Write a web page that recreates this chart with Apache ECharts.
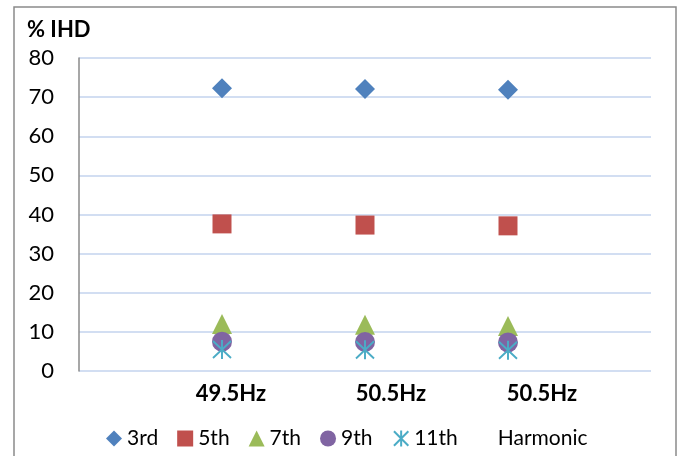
<!DOCTYPE html>
<html>
<head>
<meta charset="utf-8">
<script src="https://cdn.jsdelivr.net/npm/echarts@6/dist/echarts.min.js"></script>
<style>
    html, body { margin: 0; padding: 0; background: #fff; }
    #chart { width: 678px; height: 456px; }
</style>
</head>
<body>
<div id="chart"></div>
<script>
    // categories and values
    var categories = ['49.5Hz', '50.5Hz', '50.5Hz'];
    var seriesNames = ['3rd', '5th', '7th', '9th', '11th'];
    var third = [72.3, 72.1, 71.9];
    var fifth = [37.6, 37.3, 37.1];
    var seventh = [12.0, 11.8, 11.5];
    var ninth = [7.5, 7.4, 7.3];
    var eleventh = [5.5, 5.4, 5.3];
    var yTicks = [0, 10, 20, 30, 40, 50, 60, 70, 80];

    var fontFamily = 'Lato, "Liberation Sans", sans-serif';
    var asterisk = 'path://M10,0 L10,20 M1,1 L19,19 M19,1 L1,19';

    // padded axis: empty slot at both ends so points sit on band borders
    var xData = [''].concat(categories).concat(['']);
    function points(vals) {
        return vals.map(function (v, i) { return [i + 1, v]; });
    }
    // label shifts (Excel put the labels a bit right of the points)
    var labelShift = [0, 18, 52, 68, 0];
    var xLabelStyle = { fontSize: 22, fontWeight: 'bold', color: '#000', fontFamily: fontFamily };

    var option = {
        animation: false,
        textStyle: { fontFamily: fontFamily },
        graphic: [{
            type: 'rect',
            shape: { x: 14, y: 7, width: 662, height: 470 },
            style: { fill: 'none', stroke: '#8a8a8a', lineWidth: 1.5 },
            silent: true
        }, {
            type: 'text',
            left: 27,
            top: 19,
            style: { text: '% IHD', font: 'bold 22px ' + fontFamily, fill: '#000' }
        }],
        grid: { left: 79, right: 27, top: 58, bottom: 85 },
        legend: {
            top: 423,
            left: 101,
            itemWidth: 16,
            itemHeight: 16,
            itemGap: 19,
            textStyle: { fontSize: 21, color: '#000', fontFamily: fontFamily },
            data: seriesNames.concat(['Harmonic'])
        },
        xAxis: {
            type: 'category',
            data: xData,
            boundaryGap: false,
            axisLine: { show: false },
            axisTick: { show: false },
            splitLine: { show: false },
            axisLabel: {
                interval: 0,
                margin: 12,
                formatter: function (value, index) {
                    return value ? '{l' + index + '|' + value + '}' : '';
                },
                rich: {
                    l1: Object.assign({ padding: [0, 0, 0, labelShift[1]] }, xLabelStyle),
                    l2: Object.assign({ padding: [0, 0, 0, labelShift[2]] }, xLabelStyle),
                    l3: Object.assign({ padding: [0, 0, 0, labelShift[3]] }, xLabelStyle)
                }
            }
        },
        yAxis: {
            type: 'value',
            min: yTicks[0],
            max: yTicks[yTicks.length - 1],
            interval: 10,
            axisLine: { show: true, lineStyle: { color: '#8a8a8a', width: 1.5 } },
            axisTick: { show: false },
            axisLabel: { fontSize: 22, color: '#000', margin: 25, fontFamily: fontFamily },
            splitLine: { lineStyle: { color: '#c3d3ee', width: 1.5 } }
        },
        series: [
            { name: '3rd', type: 'scatter', symbol: 'diamond', symbolSize: 20,
              itemStyle: { color: '#4F81BD', opacity: 1 }, data: points(third) },
            { name: '5th', type: 'scatter', symbol: 'rect', symbolSize: 19,
              itemStyle: { color: '#C0504D', opacity: 1 }, data: points(fifth) },
            { name: '7th', type: 'scatter', symbol: 'triangle', symbolSize: 20,
              itemStyle: { color: '#9BBB59', opacity: 1 }, data: points(seventh) },
            { name: '9th', type: 'scatter', symbol: 'circle', symbolSize: 20,
              itemStyle: { color: '#8064A2', opacity: 1 }, data: points(ninth) },
            { name: '11th', type: 'scatter', symbol: asterisk, symbolSize: [18, 19],
              itemStyle: { color: 'none', borderColor: '#4BACC6', borderWidth: 2, opacity: 1 },
              data: points(eleventh) },
            { name: 'Harmonic', type: 'scatter', symbol: 'none',
              itemStyle: { color: 'rgba(0,0,0,0)' }, data: [] }
        ]
    };

    var chart = echarts.init(document.getElementById('chart'));
    chart.setOption(option);
    window.addEventListener('resize', function () {
        chart.resize();
    });
</script>
</body>
</html>
